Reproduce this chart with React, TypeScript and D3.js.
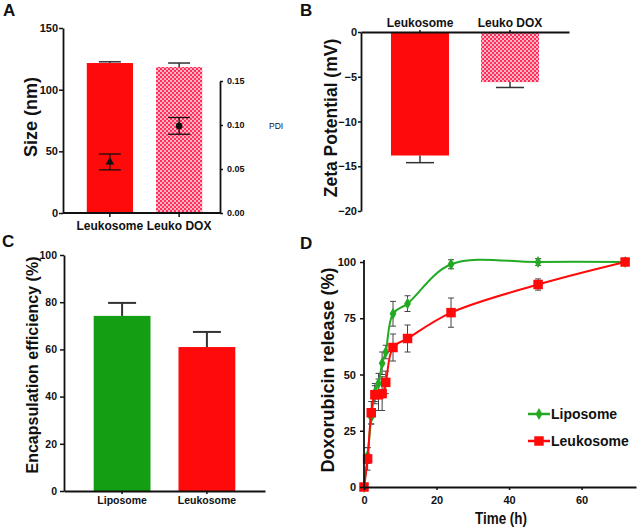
import React, { useRef, useEffect } from 'react';
import * as d3 from 'd3';

// Panel A: size + PDI
const sizeGroups = ['Leukosome', 'Leuko DOX'];
const sizeValues = [121.6, 118.4];
const sizeErr = [1.0, 3.2];
const pdiValues = [0.058, 0.099];
const pdiErr = [0.009, 0.0095];
const sizeTicks = [0, 50, 100, 150];
const pdiTicks = [0, 0.05, 0.1, 0.15];

// Panel B: zeta potential
const zetaGroups = ['Leukosome', 'Leuko DOX'];
const zetaValues = [-13.8, -5.6];
const zetaErr = [0.8, 0.6];
const zetaTicks = [0, -5, -10, -15, -20];

// Panel C: encapsulation efficiency
const eeGroups = ['Liposome', 'Leukosome'];
const eeValues = [74.2, 61.0];
const eeErr = [5.5, 6.4];
const eeTicks = [0, 20, 40, 60, 80, 100];

// Panel D: release over time
const times = [0, 1, 2, 3, 4, 5, 6, 8, 12, 24, 48, 72];
const liposomeRelease = [0, 14, 31, 42, 46, 55, 60, 77, 81.5, 99, 100, 100];
const liposomeErr = [0, 3.5, 3, 4, 4.5, 5, 3, 5.5, 3.5, 2, 1.5, 0];
const leukosomeRelease = [0, 12.5, 33, 41, 41, 41.5, 46.5, 62, 66, 77.5, 90, 100];
const leukosomeErr = [0, 5, 5, 4, 7, 7.5, 5, 6, 6, 6.5, 2.5, 0];
const timeTicks = [0, 20, 40, 60];
const releaseTicks = [0, 25, 50, 75, 100];

const RED = '#ff0a0a';
const GREEN = '#149e14';
const LINE_GREEN = '#22aa22';
const FONT = 'Liberation Sans, Arial, sans-serif';

const App = () => {
  const svgRef = useRef<SVGSVGElement>(null);

  useEffect(() => {
    const svg = d3.select(svgRef.current);
    svg.selectAll('*').remove();
    svg.attr('font-family', FONT);

    const defs = svg.append('defs');
    const pat = defs.append('pattern')
      .attr('id', 'checker')
      .attr('width', 4).attr('height', 4)
      .attr('patternUnits', 'userSpaceOnUse');
    pat.append('rect').attr('width', 4).attr('height', 4).attr('fill', '#ffb3c3');
    pat.append('rect').attr('width', 2).attr('height', 2).attr('fill', '#ff2d5a');
    pat.append('rect').attr('x', 2).attr('y', 2).attr('width', 2).attr('height', 2).attr('fill', '#ff2d5a');

    const styleAxis = (g: any, fs = 11) => {
      g.selectAll('path').attr('stroke', '#111').attr('stroke-width', 1.8);
      g.selectAll('line').attr('stroke', '#111').attr('stroke-width', 1.5);
      g.selectAll('text').attr('font-family', FONT).attr('font-weight', 'bold')
        .attr('font-size', fs).attr('fill', '#111');
    };

    const letter = (t: string, x: number, y: number) =>
      svg.append('text').attr('x', x).attr('y', y).attr('font-size', 17)
        .attr('font-weight', 'bold').attr('fill', '#111').text(t);

    const yLabel = (t: string, x: number, y: number, fs: number) =>
      svg.append('text').attr('transform', `translate(${x},${y}) rotate(-90)`)
        .attr('text-anchor', 'middle').attr('font-size', fs)
        .attr('font-weight', 'bold').attr('fill', '#111').text(t);

    // ---------- Panel A ----------
    const xA = d3.scaleBand().domain(sizeGroups).range([66, 223])
      .paddingInner(0.333).paddingOuter(0.3);
    const yA = d3.scaleLinear().domain([0, 150]).range([213, 28]);
    const yP = d3.scaleLinear().domain([0, 0.15]).range([213, 81]);
    const gA = svg.append('g');

    gA.selectAll('rect.bar').data(sizeGroups).enter().append('rect')
      .attr('x', d => xA(d)!)
      .attr('width', xA.bandwidth())
      .attr('y', (d, i) => yA(sizeValues[i]))
      .attr('height', (d, i) => yA(0) - yA(sizeValues[i]))
      .attr('fill', (d, i) => i === 0 ? RED : 'url(#checker)');

    sizeGroups.forEach((d, i) => {
      const cx = xA(d)! + xA.bandwidth() / 2;
      const top = yA(sizeValues[i] + sizeErr[i]);
      gA.append('line').attr('x1', cx).attr('x2', cx)
        .attr('y1', yA(sizeValues[i])).attr('y2', top).attr('stroke', '#333').attr('stroke-width', 1.5);
      gA.append('line').attr('x1', cx - 11).attr('x2', cx + 11)
        .attr('y1', top).attr('y2', top).attr('stroke', '#333').attr('stroke-width', 1.5);
      // PDI
      const p0 = yP(pdiValues[i] - pdiErr[i]);
      const p1 = yP(pdiValues[i] + pdiErr[i]);
      gA.append('line').attr('x1', cx).attr('x2', cx).attr('y1', p0).attr('y2', p1)
        .attr('stroke', '#111').attr('stroke-width', 1.3);
      [p0, p1].forEach(py => gA.append('line').attr('x1', cx - 11).attr('x2', cx + 11)
        .attr('y1', py).attr('y2', py).attr('stroke', '#111').attr('stroke-width', 1.3));
      gA.append('path')
        .attr('d', d3.symbol().type(i === 0 ? d3.symbolTriangle : d3.symbolCircle).size(i === 0 ? 32 : 34)())
        .attr('transform', `translate(${cx},${yP(pdiValues[i])})`)
        .attr('fill', '#111');
    });

    gA.append('g').attr('transform', 'translate(63,0)')
      .call(d3.axisLeft(yA).tickValues(sizeTicks).tickSize(4).tickPadding(1).tickSizeOuter(0))
      .call(styleAxis);
    gA.append('g').attr('transform', 'translate(0,213)')
      .call(d3.axisBottom(xA).tickSize(4).tickPadding(4).tickSizeOuter(0))
      .call(g => {
        g.select('.domain').attr('d', 'M63,0H220');
        styleAxis(g, 12);
      });
    gA.append('g').attr('transform', 'translate(220,0)')
      .call(d3.axisRight(yP).tickValues(pdiTicks).tickFormat(d3.format('.2f')).tickSize(3).tickPadding(4).tickSizeOuter(0))
      .call(g => styleAxis(g, 9));
    gA.append('text').attr('x', 269).attr('y', 129).attr('font-size', 8.5)
      .attr('fill', '#111').text('PDI');
    yLabel('Size (nm)', 37, 117, 18);
    letter('A', 3, 16);

    // ---------- Panel B ----------
    const xB = d3.scaleBand().domain(zetaGroups).range([361, 569])
      .paddingInner(0.356).paddingOuter(0.333);
    const yB = d3.scaleLinear().domain([-20, 0]).range([211, 32]);
    const gB = svg.append('g');
    gB.selectAll('rect.bar').data(zetaGroups).enter().append('rect')
      .attr('x', d => xB(d)!)
      .attr('width', xB.bandwidth())
      .attr('y', yB(0))
      .attr('height', (d, i) => yB(zetaValues[i]) - yB(0))
      .attr('fill', (d, i) => i === 0 ? RED : 'url(#checker)');
    zetaGroups.forEach((d, i) => {
      const cx = xB(d)! + xB.bandwidth() / 2;
      const bot = yB(zetaValues[i] - zetaErr[i]);
      gB.append('line').attr('x1', cx).attr('x2', cx)
        .attr('y1', yB(zetaValues[i])).attr('y2', bot).attr('stroke', '#333').attr('stroke-width', 1.5);
      gB.append('line').attr('x1', cx - 14).attr('x2', cx + 14)
        .attr('y1', bot).attr('y2', bot).attr('stroke', '#333').attr('stroke-width', 1.5);
    });
    gB.append('g').attr('transform', 'translate(361,0)')
      .call(d3.axisLeft(yB).tickValues(zetaTicks).tickSize(3).tickPadding(1).tickSizeOuter(0))
      .call(styleAxis);
    gB.append('g').attr('transform', 'translate(0,32)')
      .call(d3.axisTop(xB).tickSize(2).tickPadding(3).tickSizeOuter(0))
      .call(g => styleAxis(g, 12));
    yLabel('Zeta Potential (mV)', 337, 118, 17.5);
    letter('B', 300, 16);

    // ---------- Panel C ----------
    const xC = d3.scaleBand().domain(eeGroups).range([64, 265])
      .paddingInner(0.33).paddingOuter(0.35);
    const yC = d3.scaleLinear().domain([0, 100]).range([491, 255]);
    const gC = svg.append('g');
    gC.selectAll('rect.bar').data(eeGroups).enter().append('rect')
      .attr('x', d => xC(d)!)
      .attr('width', xC.bandwidth())
      .attr('y', (d, i) => yC(eeValues[i]))
      .attr('height', (d, i) => yC(0) - yC(eeValues[i]))
      .attr('fill', (d, i) => i === 0 ? GREEN : RED);
    eeGroups.forEach((d, i) => {
      const cx = xC(d)! + xC.bandwidth() / 2;
      const top = yC(eeValues[i] + eeErr[i]);
      gC.append('line').attr('x1', cx).attr('x2', cx)
        .attr('y1', yC(eeValues[i])).attr('y2', top).attr('stroke', '#333').attr('stroke-width', 2);
      gC.append('line').attr('x1', cx - 14).attr('x2', cx + 14)
        .attr('y1', top).attr('y2', top).attr('stroke', '#333').attr('stroke-width', 2);
    });
    gC.append('g').attr('transform', 'translate(64,0)')
      .call(d3.axisLeft(yC).tickValues(eeTicks).tickSize(4).tickPadding(3).tickSizeOuter(0))
      .call(g => styleAxis(g, 10.5));
    gC.append('g').attr('transform', 'translate(0,491)')
      .call(d3.axisBottom(xC).tickSize(3).tickPadding(3).tickSizeOuter(0))
      .call(g => styleAxis(g, 10.5));
    yLabel('Encapsulation efficiency (%)', 38, 365, 16);
    letter('C', 2, 247);

    // ---------- Panel D ----------
    const xD = d3.scaleLinear().domain([0, 75]).range([364, 636]);
    const yD = d3.scaleLinear().domain([0, 100]).range([487, 262]);
    const gD = svg.append('g');
    const curve = d3.line<number>()
      .x((d, i) => xD(times[i]))
      .y(d => yD(d))
      .curve(d3.curveCatmullRom.alpha(0.5));

    const series = [
      { vals: liposomeRelease, err: liposomeErr, color: LINE_GREEN, kind: 'diamond' },
      { vals: leukosomeRelease, err: leukosomeErr, color: RED, kind: 'square' },
    ];
    series.forEach(s => {
      s.vals.forEach((v, i) => {
        if (s.err[i] <= 0) return;
        const cx = xD(times[i]);
        const a = yD(v - s.err[i]);
        const b = yD(v + s.err[i]);
        gD.append('line').attr('x1', cx).attr('x2', cx).attr('y1', a).attr('y2', b)
          .attr('stroke', '#444').attr('stroke-width', 1);
        [a, b].forEach(py => gD.append('line').attr('x1', cx - 3).attr('x2', cx + 3)
          .attr('y1', py).attr('y2', py).attr('stroke', '#444').attr('stroke-width', 1));
      });
    });
    series.forEach(s => {
      gD.append('path').datum(s.vals).attr('d', curve)
        .attr('fill', 'none').attr('stroke', s.color).attr('stroke-width', 2);
      gD.selectAll(null).data(s.vals).enter().append('path')
        .attr('d', s.kind === 'diamond'
          ? d3.symbol().type(d3.symbolDiamond).size(40)()
          : d3.symbol().type(d3.symbolSquare).size(90)())
        .attr('transform', (d, i) => `translate(${xD(times[i])},${yD(d)})`)
        .attr('fill', s.color);
    });
    gD.append('g').attr('transform', 'translate(364,0)')
      .call(d3.axisLeft(yD).tickValues(releaseTicks).tickSize(4).tickPadding(4).tickSizeOuter(0))
      .call(g => {
        g.select('.domain').attr('d', 'M0,487V260');
        styleAxis(g, 11);
      });
    gD.append('g').attr('transform', 'translate(0,487)')
      .call(d3.axisBottom(xD).tickValues(timeTicks).tickSize(3).tickPadding(6).tickSizeOuter(0))
      .call(g => styleAxis(g, 11));
    gD.append('text').attr('x', 501).attr('y', 524).attr('text-anchor', 'middle')
      .attr('font-size', 16).attr('font-weight', 'bold').attr('fill', '#111')
      .attr('textLength', 52).attr('lengthAdjust', 'spacingAndGlyphs').text('Time (h)');
    yLabel('Doxorubicin release (%)', 334, 370, 18);
    letter('D', 300, 249);

    // legend
    const legend = [
      { name: 'Liposome', color: LINE_GREEN, kind: 'diamond' },
      { name: 'Leukosome', color: RED, kind: 'square' },
    ];
    legend.forEach((l, i) => {
      const ly = 414 + i * 27;
      gD.append('line').attr('x1', 528).attr('x2', 550).attr('y1', ly).attr('y2', ly)
        .attr('stroke', l.color).attr('stroke-width', 2.5);
      gD.append('path')
        .attr('d', l.kind === 'diamond'
          ? d3.symbol().type(d3.symbolDiamond).size(40)()
          : d3.symbol().type(d3.symbolSquare).size(90)())
        .attr('transform', `translate(539,${ly})`).attr('fill', l.color);
      gD.append('text').attr('x', 551).attr('y', ly + 5).attr('font-size', 14)
        .attr('font-weight', 'bold').attr('fill', '#111').text(l.name);
    });
  }, []);

  return (
    <svg ref={svgRef} width={638} height={529}
      style={{ position: 'absolute', left: 0, top: 0, background: '#fff' }} />
  );
};

export default App;
